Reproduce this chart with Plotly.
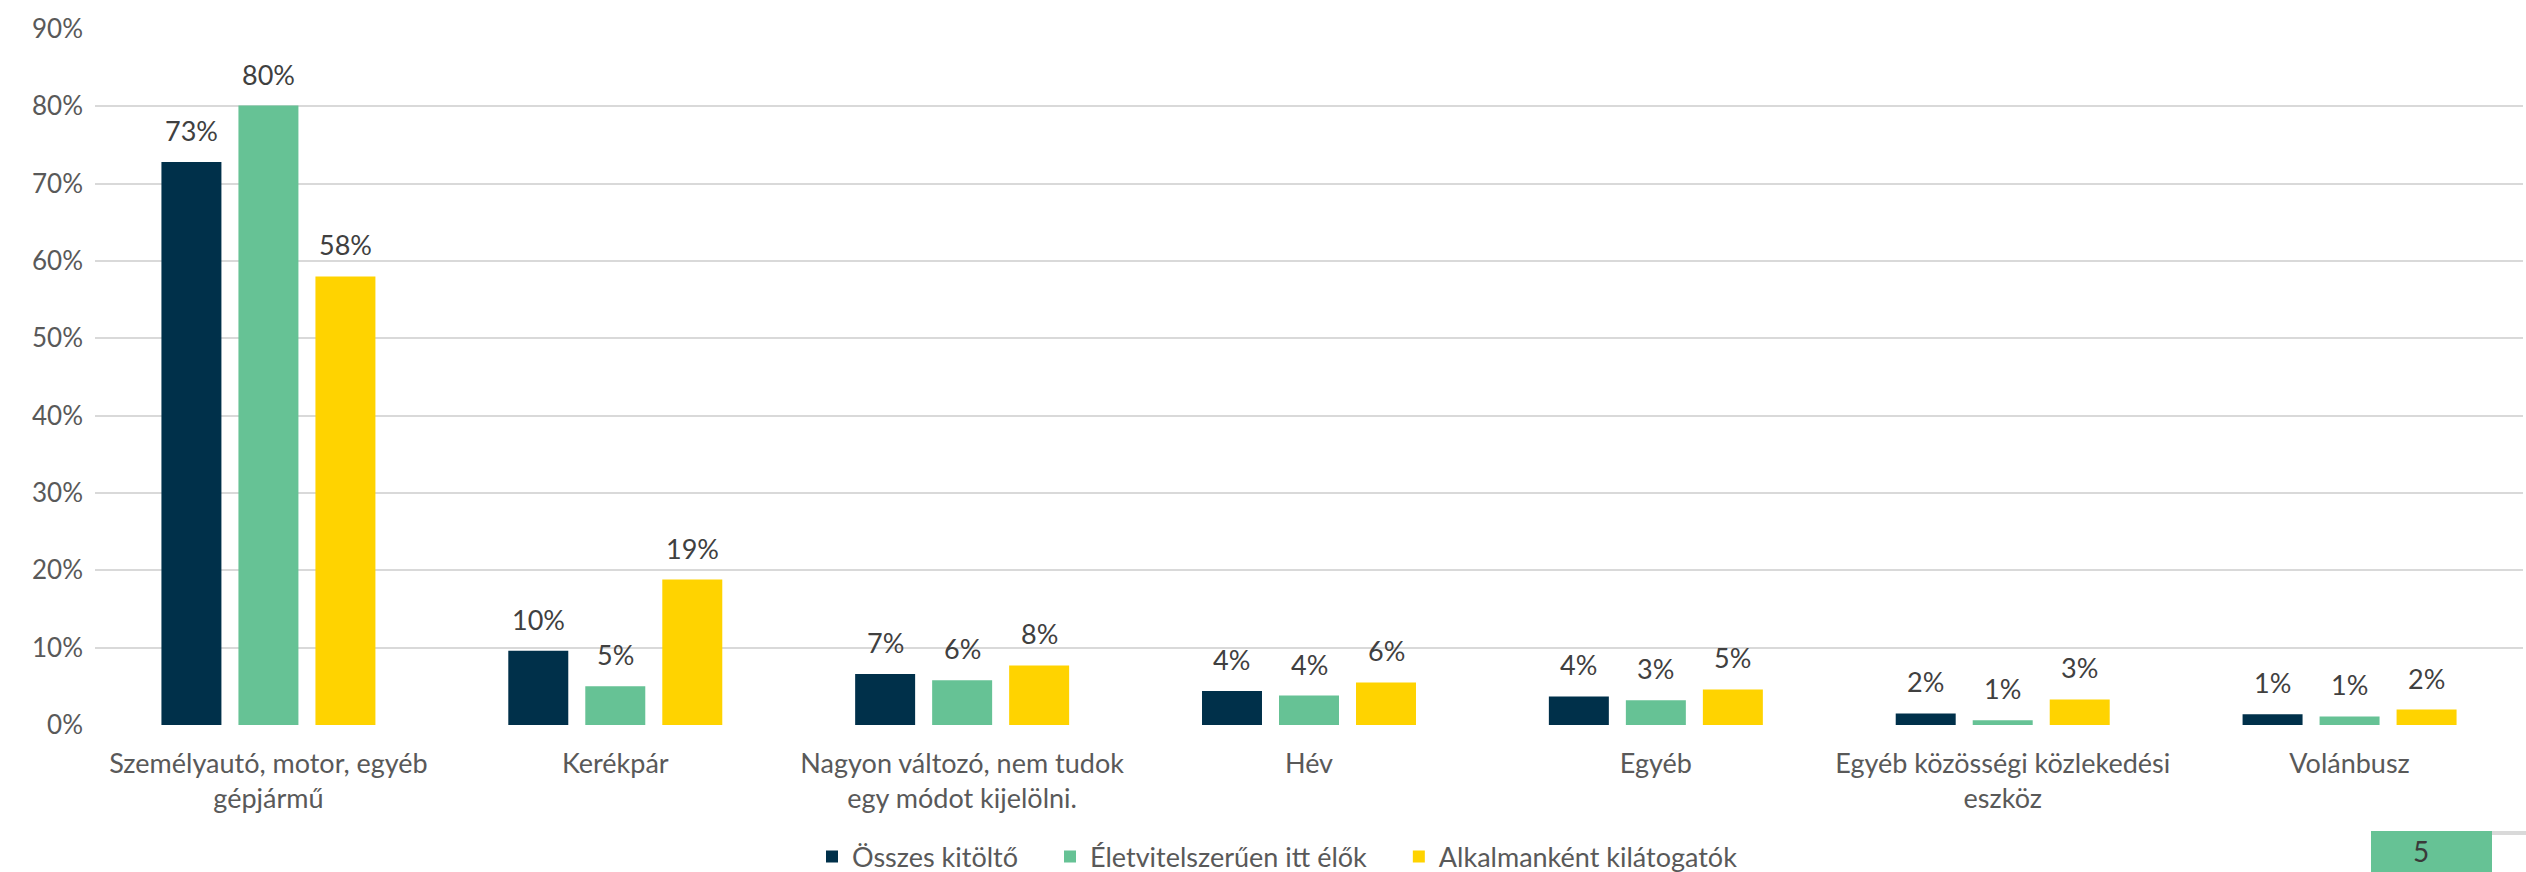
import plotly.graph_objects as go

categories = [
    "Személyautó, motor, egyéb<br>gépjármű",
    "Kerékpár",
    "Nagyon változó, nem tudok<br>egy módot kijelölni.",
    "Hév",
    "Egyéb",
    "Egyéb közösségi közlekedési<br>eszköz",
    "Volánbusz",
]
series_names = ["Összes kitöltő", "Életvitelszerűen itt élők", "Alkalmanként kilátogatók"]
osszes = [0.728, 0.096, 0.066, 0.044, 0.037, 0.015, 0.014]
eletvitel = [0.801, 0.050, 0.058, 0.038, 0.032, 0.006, 0.011]
alkalmankent = [0.580, 0.188, 0.077, 0.055, 0.046, 0.033, 0.020]
colors = ["#00304A", "#66C295", "#FFD300"]
y_ticks = [0.0, 0.1, 0.2, 0.3, 0.4, 0.5, 0.6, 0.7, 0.8, 0.9]
page_number = "5"

FONT = "Lato"
W, H = 2526, 872
L, R, T, B = 95, 3, 29, 147
BARGAP, GROUPGAP = 0.334, 0.221
pw, ph = W - L - R, H - T - B
slot_px = pw / len(categories) * (1 - BARGAP) / 3

fig = go.Figure()
all_series = [osszes, eletvitel, alkalmankent]
for i, (name, vals, col) in enumerate(zip(series_names, all_series, colors)):
    fig.add_trace(go.Bar(
        x=categories, y=vals, name=name + "\u2002\u2002",
        marker=dict(color=col, line=dict(width=0)),
        cliponaxis=False,
    ))
    for c, v in zip(categories, vals):
        fig.add_annotation(
            x=c, y=v, xref="x", yref="y", text=f"{int(v * 100 + 0.5)}%",
            showarrow=False, yanchor="bottom", xanchor="center",
            xshift=(i - 1) * slot_px, yshift=13,
            font=dict(family=FONT, size=27, color="#404040"),
        )

fig.update_layout(
    width=W, height=H,
    margin=dict(l=L, r=R, t=T, b=B, autoexpand=False),
    paper_bgcolor="white", plot_bgcolor="white",
    barmode="group", bargap=BARGAP, bargroupgap=GROUPGAP,
    font=dict(family=FONT, size=27, color="#595959"),
    legend=dict(orientation="h", x=(812 - L) / pw, xanchor="left",
                y=(H - B - 857) / ph, yanchor="middle",
                font=dict(family=FONT, size=27, color="#595959"),
                traceorder="normal", itemwidth=30),
    showlegend=True,
)
fig.update_yaxes(range=[0, 0.9], tickvals=y_ticks, tickformat=".0%",
                 showgrid=True, gridcolor="#D9D9D9", gridwidth=2,
                 zeroline=False, showline=False, ticks="", ticklabelstandoff=11,
                 tickfont=dict(family=FONT, size=26, color="#595959"))
fig.update_xaxes(showline=False, ticks="", ticklabelstandoff=20,
                 tickfont=dict(family=FONT, size=27, color="#595959"))

def px(x): return (x - L) / pw
def py(y): return (H - B - y) / ph

fig.add_shape(type="rect", xref="paper", yref="paper",
              x0=px(2371), x1=px(2492), y0=py(872), y1=py(831),
              fillcolor="#66C295", line=dict(width=0), layer="above")
fig.add_shape(type="line", xref="paper", yref="paper",
              x0=px(2492), x1=px(2526), y0=py(833), y1=py(833),
              line=dict(color="#D9D9D9", width=4))
fig.add_annotation(xref="paper", yref="paper", x=px(2431), y=py(851),
                   text=page_number, showarrow=False, yanchor="middle",
                   font=dict(family=FONT, size=28, color="#3A3A3A"))

fig.write_html("out.html", config={"displayModeBar": False},
               post_script="document.body.style.margin='0';document.body.style.overflow='hidden';")
